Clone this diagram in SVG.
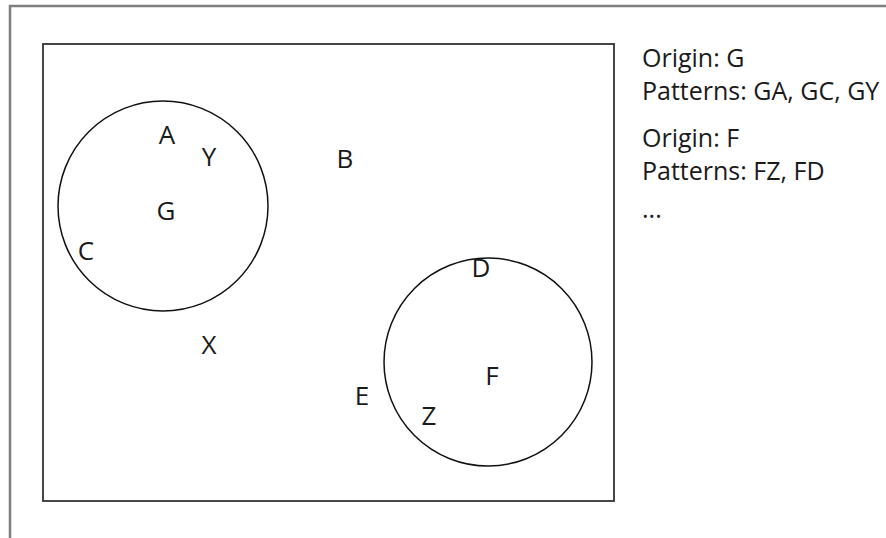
<svg xmlns="http://www.w3.org/2000/svg" width="886" height="538" viewBox="0 0 886 538">
<style>
.frame{fill:none;stroke:#7f7f7f;stroke-width:2.5}
.box{fill:#fff;stroke:#333;stroke-width:1.8}
.set{fill:none;stroke:#111;stroke-width:1.5}
.lbl{font-family:"Open Sans","Liberation Sans",sans-serif;font-size:26px;fill:#1a1a1a;text-anchor:middle}
.info{font-family:"Open Sans","Liberation Sans",sans-serif;font-size:25px;fill:#1a1a1a}
</style>
<rect width="886" height="538" fill="#fff"/>
<polyline class="frame" points="10,538 10,6 886,6"/>
<rect class="box" x="43" y="44" width="571" height="457"/>
<g id="setG"><circle class="set" cx="163" cy="206" r="105"/></g>
<g id="setF"><circle class="set" cx="488" cy="362" r="104"/></g>
<g id="labels">
<text class="lbl" x="167" y="144">A</text>
<text class="lbl" x="209" y="166">Y</text>
<text class="lbl" x="166" y="220">G</text>
<text class="lbl" x="86" y="260">C</text>
<text class="lbl" x="345" y="168">B</text>
<text class="lbl" x="209" y="354">X</text>
<text class="lbl" x="481" y="277">D</text>
<text class="lbl" x="492" y="385">F</text>
<text class="lbl" x="362" y="405">E</text>
<text class="lbl" x="429" y="425">Z</text>
</g>
<g id="legend">
<text class="info" x="642" y="67">Origin: G</text>
<text class="info" x="642" y="100">Patterns: GA, GC, GY</text>
<text class="info" x="642" y="147">Origin: F</text>
<text class="info" x="642" y="180">Patterns: FZ, FD</text>
<text class="info" x="642" y="218">...</text>
</g>
</svg>
